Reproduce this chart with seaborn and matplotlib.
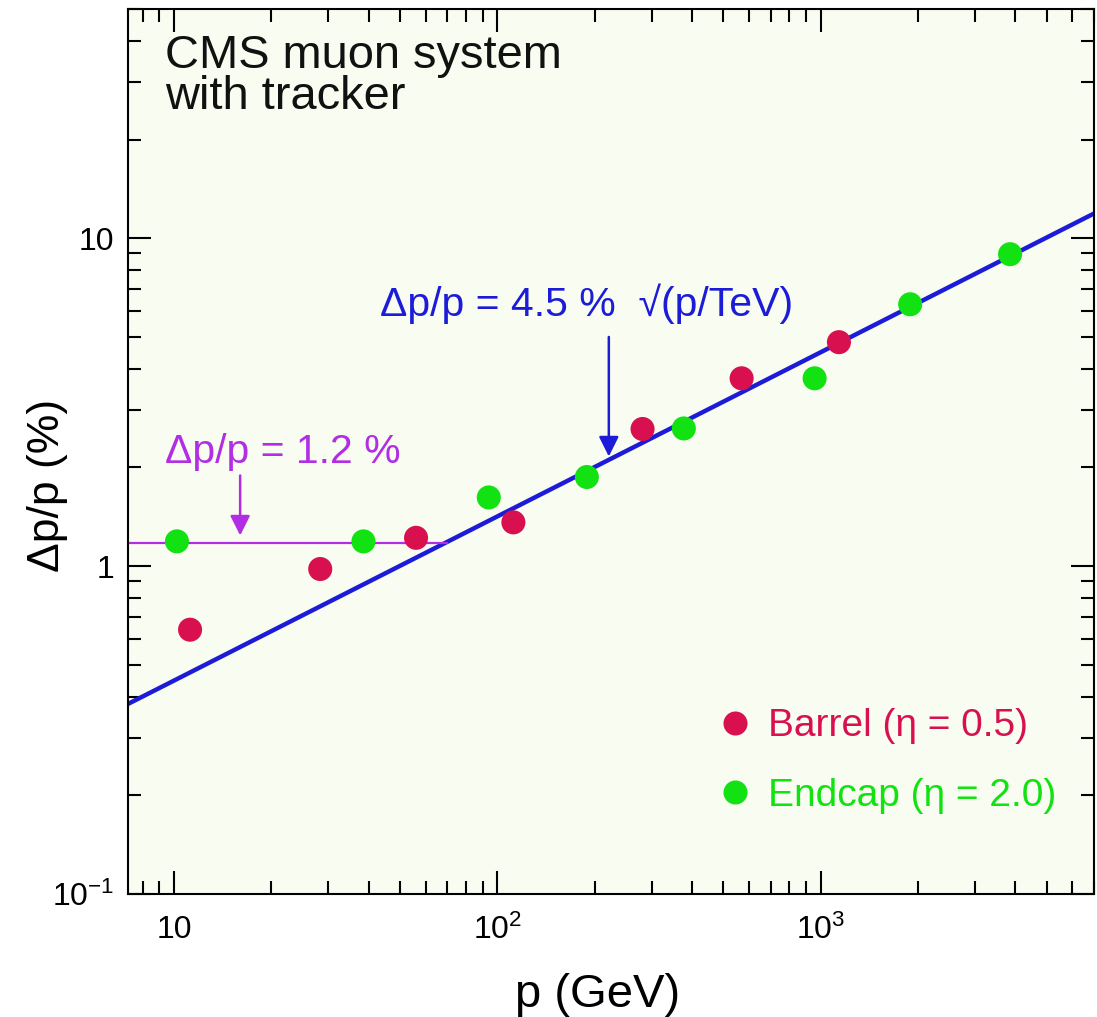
import pandas as pd
import matplotlib.pyplot as plt
import seaborn as sns

# points
barrel_p = [11.2, 28.3, 56, 112, 281, 569, 1138]
barrel_dp = [0.64, 0.98, 1.22, 1.36, 2.62, 3.74, 4.82]
endcap_p = [10.2, 38.5, 94, 189, 377, 957, 1890, 3850]
endcap_dp = [1.19, 1.19, 1.62, 1.87, 2.63, 3.74, 6.29, 8.94]

barrel_label = "Barrel (\u03b7 = 0.5)"
endcap_label = "Endcap (\u03b7 = 2.0)"

# 4.5 % sqrt(p/TeV) line end points and the 1.2 % level
fit_p = [7.2, 7000]
fit_dp = [0.38, 11.9]
const_p = [7.2, 70]
const_dp = [1.18, 1.18]

x_ticks = [10, 100, 1000]
x_ticklabels = ["10", r"$\mathregular{10^{2}}$", r"$\mathregular{10^{3}}$"]
y_ticks = [0.1, 1, 10]
y_ticklabels = [r"$\mathregular{10^{-1}}$", "1", "10"]

red = "#d8104f"
green = "#12e212"
blue = "#1c1cd8"
purple = "#b22ee4"

df = pd.DataFrame({
    "p": barrel_p + endcap_p,
    "dp": barrel_dp + endcap_dp,
    "region": [barrel_label] * len(barrel_p) + [endcap_label] * len(endcap_p),
})

sns.set_theme(style="ticks")
plt.rcParams["font.family"] = ["Liberation Sans", "DejaVu Sans"]
plt.rcParams["mathtext.fontset"] = "custom"
plt.rcParams["mathtext.rm"] = "Liberation Sans"
plt.rcParams["text.color"] = "black"
plt.rcParams["axes.labelcolor"] = "black"

fig = plt.figure(figsize=(10.97, 10.17), dpi=100)
ax = fig.add_axes([0.1167, 0.1209, 0.8806, 0.8702])
ax.set_facecolor("#f9fcf1")

sns.lineplot(x=fit_p, y=fit_dp, color=blue, lw=3.2, ax=ax, zorder=2)
sns.lineplot(x=const_p, y=const_dp, color=purple, lw=1.6, ax=ax, zorder=2)
sns.scatterplot(data=df, x="p", y="dp", hue="region",
                palette={barrel_label: red, endcap_label: green},
                s=300, linewidth=0, ax=ax, zorder=3)

ax.set_xscale("log")
ax.set_yscale("log")
ax.set_xlim(7.2, 7000)
ax.set_ylim(0.1, 50)

ax.set_xticks(x_ticks, x_ticklabels)
ax.set_yticks(y_ticks, y_ticklabels)
ax.xaxis.set_minor_formatter(plt.NullFormatter())
ax.yaxis.set_minor_formatter(plt.NullFormatter())
ax.tick_params(which="both", direction="in", top=True, right=True,
               width=1.5, color="black", labelcolor="black", labelsize=23)
ax.tick_params(which="major", length=16.5)
ax.tick_params(which="minor", length=9.5)
ax.tick_params(axis="x", pad=15)
ax.tick_params(axis="y", pad=10)
for sp in ax.spines.values():
    sp.set_linewidth(1.5)
    sp.set_color("black")

ax.set_xlabel("p (GeV)", fontsize=34)
ax.set_ylabel("\u0394p/p (%)", fontsize=32)
ax.xaxis.set_label_coords(0.4865, -0.089)
ax.yaxis.set_label_coords(-0.062, 0.4616)

ax.text(0.038, 0.972, "CMS muon system\nwith tracker", transform=ax.transAxes,
        ha="left", va="top", fontsize=33.8, linespacing=0.93, color="#111111")

# annotations
ax.text(43.4, 6.3, "\u0394p/p = 4.5 %  \u221a(p/TeV)", color=blue,
        fontsize=29.5, ha="left", va="center")
ax.annotate("", xy=(221, 2.16), xytext=(221, 5.0),
            arrowprops=dict(arrowstyle="-|>", color=blue, lw=1.8,
                            mutation_scale=30, shrinkA=0, shrinkB=0))
ax.text(9.38, 2.23, "\u0394p/p = 1.2 %", color=purple,
        fontsize=29.5, ha="left", va="center")
ax.annotate("", xy=(16, 1.24), xytext=(16, 1.89),
            arrowprops=dict(arrowstyle="-|>", color=purple, lw=1.8,
                            mutation_scale=30, shrinkA=0, shrinkB=0))

handles, labels = ax.get_legend_handles_labels()
leg = ax.legend(handles, labels, loc="upper left", bbox_to_anchor=(0.612, 0.21),
                frameon=False, fontsize=28, handlelength=0.8, handletextpad=0.45,
                labelspacing=0.86, borderpad=0, borderaxespad=0,
                labelcolor="markerfacecolor")

fig.savefig("out.png", dpi=100)
